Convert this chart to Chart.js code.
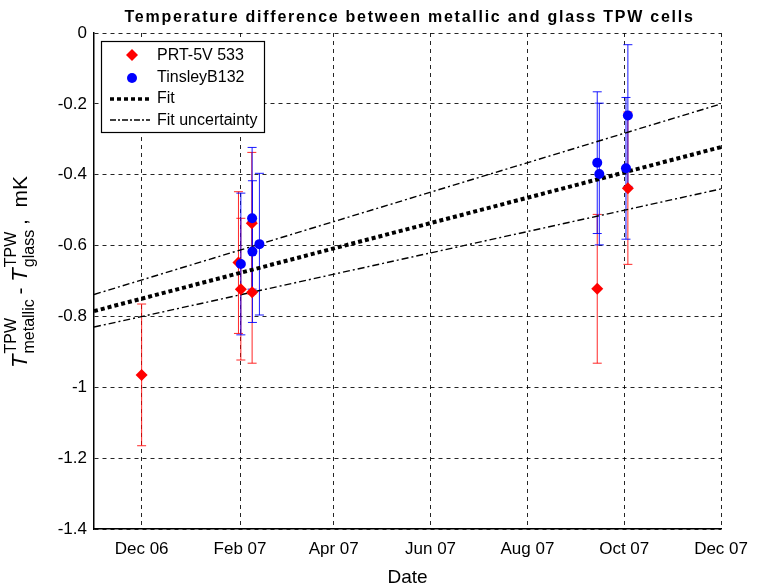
<!DOCTYPE html>
<html><head><meta charset="utf-8">
<script src="https://cdn.jsdelivr.net/npm/chart.js@4.4.0/dist/chart.umd.min.js"></script>
<style>html,body{margin:0;padding:0;background:#fff;} #wrap{width:758px;height:588px;position:relative;}</style>
</head><body><div id="wrap"><canvas id="c" width="758" height="588"></canvas></div>
<script>
// x values are days counted from 1 Dec 2006
const tickDays = [0, 62, 121, 182, 243, 304, 365];
const tickLabels = ['Dec 06', 'Feb 07', 'Apr 07', 'Jun 07', 'Aug 07', 'Oct 07', 'Dec 07'];
const prtDays = [0, 61, 62.5, 69.4, 69.6, 287, 306.3];
const prtValues = [-0.965, -0.648, -0.723, -0.537, -0.732, -0.722, -0.438];
const prtErrors = [0.2, 0.2, 0.2, 0.2, 0.2, 0.21, 0.215];
const tinsleyDays = [62.5, 69.6, 69.8, 74.2, 287, 288.3, 305.1, 306.3];
const tinsleyValues = [-0.652, -0.523, -0.617, -0.596, -0.366, -0.398, -0.382, -0.233];
const tinsleyErrors = [0.2, 0.2, 0.2, 0.2, 0.2, 0.2, 0.2, 0.2];
const fitDays = [-30, 365];
const fitValues = [-0.785, -0.322];
const fitUpper = [-0.738, -0.2];
const fitLower = [-0.83, -0.44];

const pts = (xs, ys) => xs.map((x, i) => ({x: x, y: ys[i]}));
const FONT = '"Liberation Sans", Arial, Helvetica, sans-serif';

const deco = {
  id: 'deco',
  beforeDatasetsDraw(chart) {
    const ctx = chart.ctx, xs = chart.scales.x, ys = chart.scales.y;
    const bars = (days, vals, errs, color) => {
      ctx.save();
      ctx.strokeStyle = color; ctx.lineWidth = 1;
      days.forEach((d, i) => {
        const px = xs.getPixelForValue(d);
        const top = ys.getPixelForValue(vals[i] + errs[i]);
        const bot = ys.getPixelForValue(vals[i] - errs[i]);
        ctx.beginPath();
        ctx.moveTo(px, top); ctx.lineTo(px, bot);
        ctx.moveTo(px - 4.5, top); ctx.lineTo(px + 4.5, top);
        ctx.moveTo(px - 4.5, bot); ctx.lineTo(px + 4.5, bot);
        ctx.stroke();
      });
      ctx.restore();
    };
    bars(prtDays, prtValues, prtErrors, 'rgba(255,0,0,0.85)');
    bars(tinsleyDays, tinsleyValues, tinsleyErrors, 'rgba(0,0,255,0.9)');
  },
  afterDraw(chart) {
    const ctx = chart.ctx, a = chart.chartArea;
    ctx.save();
    ctx.fillStyle = '#000';
    // title
    ctx.font = 'bold 16px ' + FONT;
    const title = 'Temperature difference between metallic and glass TPW cells';
    const w0 = ctx.measureText(title).width;
    const target = 570;
    ctx.letterSpacing = Math.max(0, (target - w0) / title.length).toFixed(2) + 'px';
    ctx.textAlign = 'center'; ctx.textBaseline = 'alphabetic';
    ctx.fillText(title, (a.left + a.right) / 2 + 2, 22);
    ctx.letterSpacing = '0px';
    // x label
    ctx.font = '19px ' + FONT;
    ctx.fillText('Date', (a.left + a.right) / 2, 583);
    // y label
    ctx.save();
    ctx.translate(27, 272);
    ctx.rotate(-Math.PI / 2);
    const big = 'italic 22px ' + FONT, norm = '21px ' + FONT, small = '16px ' + FONT;
    const measure = (t, f) => { ctx.font = f; return ctx.measureText(t).width; };
    const segs = [
      {t: 'T', f: big},
      {stack: ['TPW', 'metallic']},
      {t: ' - ', f: norm},
      {t: 'T', f: big},
      {stack: ['TPW', 'glass']},
      {t: ' ,  mK', f: norm}
    ];
    let total = 0;
    segs.forEach(s => {
      if (s.stack) { s.w = Math.max(measure(s.stack[0], small), measure(s.stack[1], small)); }
      else s.w = measure(s.t, s.f);
      total += s.w;
    });
    let x = -total / 2;
    ctx.textAlign = 'left'; ctx.textBaseline = 'alphabetic';
    segs.forEach(s => {
      if (s.stack) {
        ctx.font = small;
        ctx.fillText(s.stack[0], x + 1, -11);
        ctx.fillText(s.stack[1], x + 1, 7);
      } else {
        ctx.font = s.f;
        ctx.fillText(s.t, x, 0);
      }
      x += s.w;
    });
    ctx.restore();
    // legend
    const L = 101, T = 41, R = 264, B = 132;
    ctx.fillStyle = '#fff';
    ctx.fillRect(L, T, R - L, B - T);
    ctx.strokeStyle = '#000'; ctx.lineWidth = 1.2;
    ctx.strokeRect(L + 0.5, T + 0.5, R - L, B - T);
    ctx.fillStyle = '#f00';
    ctx.beginPath();
    ctx.moveTo(132, 49); ctx.lineTo(138, 55); ctx.lineTo(132, 61); ctx.lineTo(126, 55); ctx.closePath(); ctx.fill();
    ctx.fillStyle = '#00f';
    ctx.beginPath(); ctx.arc(132, 78, 5, 0, Math.PI * 2); ctx.fill();
    ctx.strokeStyle = '#000';
    ctx.lineWidth = 3.5; ctx.setLineDash([4, 3]);
    ctx.beginPath(); ctx.moveTo(110, 99); ctx.lineTo(149, 99); ctx.stroke();
    ctx.lineWidth = 1.3; ctx.setLineDash([6, 2, 2, 2]);
    ctx.beginPath(); ctx.moveTo(110, 120); ctx.lineTo(150, 120); ctx.stroke();
    ctx.setLineDash([]);
    ctx.fillStyle = '#000';
    ctx.font = '16px ' + FONT; ctx.textAlign = 'left'; ctx.textBaseline = 'middle';
    ctx.fillText('PRT-5V 533', 157, 56);
    ctx.fillText('TinsleyB132', 157, 78);
    ctx.fillText('Fit', 157, 99);
    ctx.fillText('Fit uncertainty', 157, 121);
    ctx.restore();
  }
};

new Chart(document.getElementById('c'), {
  type: 'scatter',
  data: {
    datasets: [
      {label: 'Fit uncertainty upper', type: 'line', data: pts(fitDays, fitUpper), borderColor: '#000', borderWidth: 1.4, borderDash: [7, 3, 2, 3], pointRadius: 0, fill: false, order: 3},
      {label: 'Fit uncertainty lower', type: 'line', data: pts(fitDays, fitLower), borderColor: '#000', borderWidth: 1.4, borderDash: [7, 3, 2, 3], pointRadius: 0, fill: false, order: 3},
      {label: 'Fit', type: 'line', data: pts(fitDays, fitValues), borderColor: '#000', borderWidth: 4, borderDash: [4, 3], pointRadius: 0, fill: false, order: 2},
      {label: 'PRT-5V 533', data: pts(prtDays, prtValues), pointStyle: 'rectRot', pointRadius: 6, backgroundColor: '#f00', borderColor: '#f00', borderWidth: 0, order: 1},
      {label: 'TinsleyB132', data: pts(tinsleyDays, tinsleyValues), pointStyle: 'circle', pointRadius: 5, backgroundColor: '#00f', borderColor: '#00f', borderWidth: 0, order: 0}
    ]
  },
  options: {
    responsive: false,
    animation: false,
    layout: {padding: {top: 33, right: 36, left: 0, bottom: 0}},
    plugins: {legend: {display: false}, title: {display: false}, tooltip: {enabled: false}},
    scales: {
      x: {
        type: 'linear', min: -30, max: 365,
        afterBuildTicks: s => { s.ticks = tickDays.map(v => ({value: v})); },
        afterFit: s => { s.height = 59; },
        ticks: {callback: (v, i) => tickLabels[i], font: {size: 17, family: FONT}, color: '#000', padding: 10, maxRotation: 0, autoSkip: false},
        grid: {color: 'rgba(0,0,0,0.85)', lineWidth: 1, drawTicks: false},
        border: {display: true, color: '#000', width: 1.5, dash: [4, 4]}
      },
      y: {
        type: 'linear', min: -1.4, max: 0,
        ticks: {stepSize: 0.2, callback: v => { const r = Math.round(v * 10) / 10; return r === 0 ? '0' : String(r); }, font: {size: 17, family: FONT}, color: '#000', padding: 7},
        afterFit: s => { s.width = 94; },
        grid: {color: 'rgba(0,0,0,0.85)', lineWidth: 1, drawTicks: false},
        border: {display: true, color: '#000', width: 1.5, dash: [4, 4]}
      }
    }
  },
  plugins: [deco]
});
</script></body></html>
